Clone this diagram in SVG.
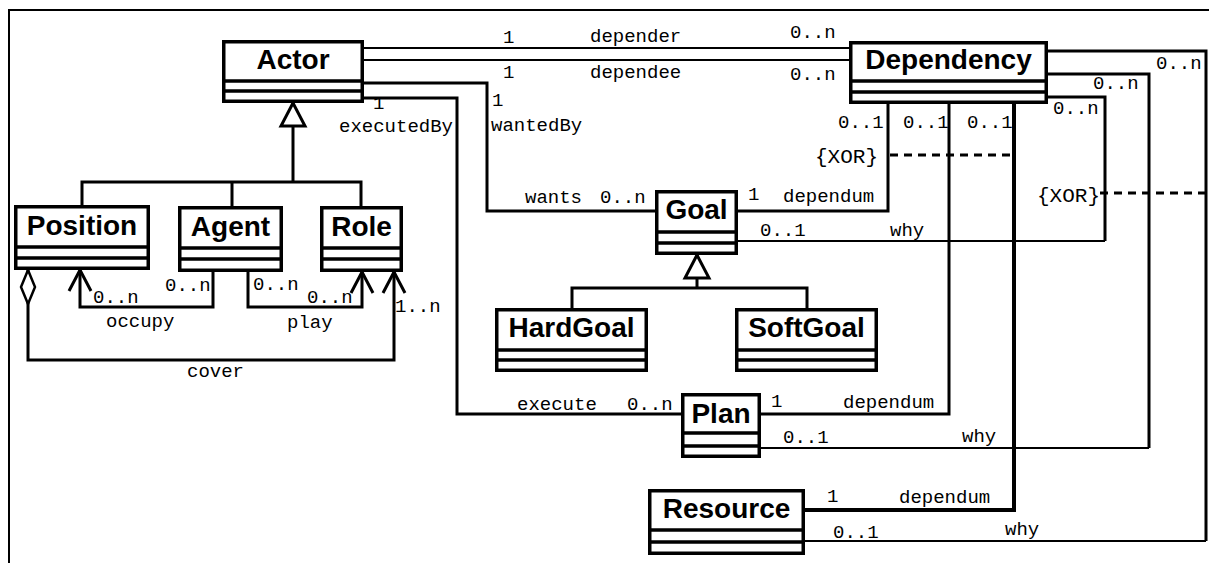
<svg xmlns="http://www.w3.org/2000/svg" width="1209" height="563" viewBox="0 0 1209 563">
<style>
.box{fill:#fff;stroke:#000;stroke-width:3.5}
.sep{stroke:#000;stroke-width:3.5}
.name{font-family:"Liberation Sans",Arial,sans-serif;font-weight:bold;font-size:28px;text-anchor:middle;fill:#000}
.lbl{font-family:"Liberation Mono","Courier New",monospace;font-size:19px;fill:#000}
.xor{font-size:21px}
.thin{fill:none;stroke:#000;stroke-width:2}
.thick{fill:none;stroke:#000;stroke-width:3}
.heavy{fill:none;stroke:#000;stroke-width:4}
.dash{fill:none;stroke:#000;stroke-width:3;stroke-dasharray:8 6}
.frame{fill:none;stroke:#000;stroke-width:2}
</style>
<defs>
<marker id="open" markerUnits="userSpaceOnUse" orient="auto" refX="0" refY="0" markerWidth="40" markerHeight="40" style="overflow:visible">
<path d="M-21,-11 L0,0 L-21,11" fill="none" stroke="#000" stroke-width="3"/>
</marker>
<marker id="gen" markerUnits="userSpaceOnUse" orient="auto" refX="0" refY="0" markerWidth="40" markerHeight="40" style="overflow:visible">
<path d="M0,0 L-23,-12 L-23,12 Z" fill="#fff" stroke="#000" stroke-width="3"/>
</marker>
<marker id="agg" markerUnits="userSpaceOnUse" orient="auto" refX="0" refY="0" markerWidth="40" markerHeight="40" style="overflow:visible">
<path d="M0,0 L17,-7 L34,0 L17,7 Z" fill="#fff" stroke="#000" stroke-width="2.5"/>
</marker>
</defs>
<rect x="0" y="0" width="1209" height="563" fill="#fff"/>
<path class="frame" d="M9,563 V10 H1209"/>

<g id="connectors">
<path class="thin" d="M364,48 H849"/>
<path class="thin" d="M364,60 H849"/>
<path class="thick" d="M364,83 H487 V211 H655"/>
<path class="thick" d="M364,98 H457 V414 H681"/>
<path class="thick" d="M738,211 H888 V104"/>
<path class="thin" d="M738,241 H1105"/>
<path class="thick" d="M1105,241 V97 H1048"/>
<path class="thick" d="M761,414 H949 V104"/>
<path class="thin" d="M761,448 H1149"/>
<path class="thick" d="M1149,448 V74 H1048"/>
<path class="heavy" d="M805,510 H1014 V104"/>
<path class="thin" d="M805,541 H1206"/>
<path class="thick" d="M1206,541 V51 H1048"/>
<path class="dash" d="M890,155 H1012"/>
<path class="dash" d="M1100,193 H1209"/>
<path class="thick" d="M82,205 V182 H361 V206 M232,182 V206"/>
<path class="thick" d="M293,182 V103" marker-end="url(#gen)"/>
<path class="thick" d="M572,308 V288 H807 V308"/>
<path class="thick" d="M697,288 V255" marker-end="url(#gen)"/>
<path class="thick" d="M213,272 V307 H80 V270" marker-end="url(#open)"/>
<path class="thick" d="M248,272 V307 H362 V272" marker-end="url(#open)"/>
<path class="thick" d="M28,270 V360 H394 V272" marker-start="url(#agg)" marker-end="url(#open)"/>
</g>

<g id="labels">
<text class="lbl" x="503" y="43">1</text>
<text class="lbl" x="590" y="42">depender</text>
<text class="lbl" x="790" y="38">0..n</text>
<text class="lbl" x="503" y="78">1</text>
<text class="lbl" x="590" y="78">dependee</text>
<text class="lbl" x="790" y="80">0..n</text>
<text class="lbl" x="373" y="109">1</text>
<text class="lbl" x="339" y="132">executedBy</text>
<text class="lbl" x="492" y="106">1</text>
<text class="lbl" x="491" y="131">wantedBy</text>
<text class="lbl" x="525" y="203">wants</text>
<text class="lbl" x="600" y="203">0..n</text>
<text class="lbl" x="748" y="200">1</text>
<text class="lbl" x="783" y="202">dependum</text>
<text class="lbl" x="760" y="236">0..1</text>
<text class="lbl" x="890" y="236">why</text>
<text class="lbl" x="838" y="128">0..1</text>
<text class="lbl" x="903" y="128">0..1</text>
<text class="lbl" x="967" y="128">0..1</text>
<text class="lbl xor" x="815" y="163">{XOR}</text>
<text class="lbl xor" x="1037" y="202">{XOR}</text>
<text class="lbl" x="1156" y="69">0..n</text>
<text class="lbl" x="1093" y="89">0..n</text>
<text class="lbl" x="1053" y="114">0..n</text>
<text class="lbl" x="517" y="410">execute</text>
<text class="lbl" x="627" y="410">0..n</text>
<text class="lbl" x="771" y="407">1</text>
<text class="lbl" x="843" y="408">dependum</text>
<text class="lbl" x="783" y="443">0..1</text>
<text class="lbl" x="962" y="442">why</text>
<text class="lbl" x="827" y="502">1</text>
<text class="lbl" x="899" y="503">dependum</text>
<text class="lbl" x="833" y="538">0..1</text>
<text class="lbl" x="1005" y="535">why</text>
<text class="lbl" x="93" y="303">0..n</text>
<text class="lbl" x="165" y="291">0..n</text>
<text class="lbl" x="106" y="327">occupy</text>
<text class="lbl" x="253" y="290">0..n</text>
<text class="lbl" x="307" y="303">0..n</text>
<text class="lbl" x="287" y="328">play</text>
<text class="lbl" x="395" y="312">1..n</text>
<text class="lbl" x="187" y="377">cover</text>
</g>

<g id="Actor">
<rect class="box" x="223.75" y="41.75" width="138.5" height="59.5"/>
<path class="sep" d="M222,81 H364 M222,91 H364"/>
<text class="name" x="293" y="69">Actor</text>
</g>
<g id="Dependency">
<rect class="box" x="850.75" y="42.75" width="195.5" height="59.5"/>
<path class="sep" d="M849,81 H1048 M849,92 H1048"/>
<text class="name" x="948.5" y="69">Dependency</text>
</g>
<g id="Position">
<rect class="box" x="15.75" y="206.75" width="132.5" height="61.5"/>
<path class="sep" d="M14,247 H150 M14,258 H150"/>
<text class="name" x="82" y="235">Position</text>
</g>
<g id="Agent">
<rect class="box" x="179.75" y="207.75" width="101.5" height="62.5"/>
<path class="sep" d="M178,248 H283 M178,259 H283"/>
<text class="name" x="230.5" y="236">Agent</text>
</g>
<g id="Role">
<rect class="box" x="321.75" y="207.75" width="79.5" height="62.5"/>
<path class="sep" d="M320,248 H403 M320,259 H403"/>
<text class="name" x="361.5" y="236">Role</text>
</g>
<g id="Goal">
<rect class="box" x="656.75" y="191.75" width="79.5" height="61.5"/>
<path class="sep" d="M655,232 H738 M655,243 H738"/>
<text class="name" x="696.5" y="219">Goal</text>
</g>
<g id="HardGoal">
<rect class="box" x="496.75" y="309.75" width="149.5" height="60.5"/>
<path class="sep" d="M495,350 H648 M495,360 H648"/>
<text class="name" x="571.5" y="337">HardGoal</text>
</g>
<g id="SoftGoal">
<rect class="box" x="736.75" y="309.75" width="139.5" height="60.5"/>
<path class="sep" d="M735,350 H878 M735,360 H878"/>
<text class="name" x="806.5" y="337">SoftGoal</text>
</g>
<g id="Plan">
<rect class="box" x="682.75" y="394.75" width="76.5" height="61.5"/>
<path class="sep" d="M681,433 H761 M681,446 H761"/>
<text class="name" x="721" y="423">Plan</text>
</g>
<g id="Resource">
<rect class="box" x="649.75" y="490.75" width="153.5" height="62.5"/>
<path class="sep" d="M648,530 H805 M648,542 H805"/>
<text class="name" x="726.5" y="518">Resource</text>
</g>
</svg>
